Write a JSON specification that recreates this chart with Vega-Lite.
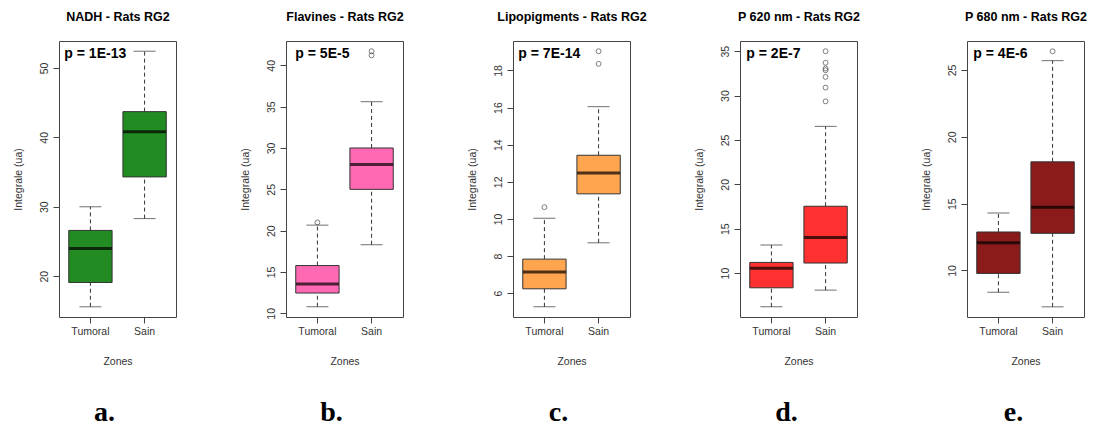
{
  "$schema": "https://vega.github.io/schema/vega-lite/v6.json",
  "background": "white",
  "padding": {"left": 12, "top": 9, "right": 0, "bottom": 0},
  "datasets": {
    "boxes": [
      {"panel": "NADH", "zone": "Tumoral", "lo": 15.6, "q1": 19.1, "med": 24.0, "q3": 26.6, "hi": 30.0},
      {"panel": "NADH", "zone": "Sain", "lo": 28.3, "q1": 34.3, "med": 40.8, "q3": 43.7, "hi": 52.4},
      {"panel": "Flavines", "zone": "Tumoral", "lo": 10.8, "q1": 12.46, "med": 13.55, "q3": 15.78, "hi": 20.67},
      {"panel": "Flavines", "zone": "Sain", "lo": 18.3, "q1": 25.0, "med": 28.0, "q3": 30.0, "hi": 35.6},
      {"panel": "Lipopigments", "zone": "Tumoral", "lo": 5.26, "q1": 6.23, "med": 7.13, "q3": 7.83, "hi": 10.04},
      {"panel": "Lipopigments", "zone": "Sain", "lo": 8.71, "q1": 11.35, "med": 12.48, "q3": 13.43, "hi": 16.05},
      {"panel": "P620", "zone": "Tumoral", "lo": 6.2, "q1": 8.34, "med": 10.53, "q3": 11.2, "hi": 13.16},
      {"panel": "P620", "zone": "Sain", "lo": 8.08, "q1": 11.13, "med": 14.02, "q3": 17.53, "hi": 26.53},
      {"panel": "P680", "zone": "Tumoral", "lo": 8.37, "q1": 9.78, "med": 12.08, "q3": 12.88, "hi": 14.3},
      {"panel": "P680", "zone": "Sain", "lo": 7.28, "q1": 12.78, "med": 14.73, "q3": 18.13, "hi": 25.7}
    ],
    "outliers": [
      {"panel": "Flavines", "zone": "Tumoral", "value": 21.0},
      {"panel": "Flavines", "zone": "Sain", "value": 41.2},
      {"panel": "Flavines", "zone": "Sain", "value": 41.7},
      {"panel": "Lipopigments", "zone": "Tumoral", "value": 10.63},
      {"panel": "Lipopigments", "zone": "Sain", "value": 18.36},
      {"panel": "Lipopigments", "zone": "Sain", "value": 19.04},
      {"panel": "P620", "zone": "Sain", "value": 29.35},
      {"panel": "P620", "zone": "Sain", "value": 30.9},
      {"panel": "P620", "zone": "Sain", "value": 32.1},
      {"panel": "P620", "zone": "Sain", "value": 32.85},
      {"panel": "P620", "zone": "Sain", "value": 33.05},
      {"panel": "P620", "zone": "Sain", "value": 33.7},
      {"panel": "P620", "zone": "Sain", "value": 35.0},
      {"panel": "P680", "zone": "Sain", "value": 26.4}
    ],
    "pvals": [
      {"panel": "NADH", "zone": "Tumoral", "ptext": "p = 1E-13"},
      {"panel": "Flavines", "zone": "Tumoral", "ptext": "p = 5E-5"},
      {"panel": "Lipopigments", "zone": "Tumoral", "ptext": "p = 7E-14"},
      {"panel": "P620", "zone": "Tumoral", "ptext": "p = 2E-7"},
      {"panel": "P680", "zone": "Tumoral", "ptext": "p = 4E-6"}
    ]
  },
  "spacing": 110,
  "bounds": "flush",
  "hconcat": [
    {
      "width": 117, "height": 276,
      "title": {"text": "a.", "orient": "bottom", "anchor": "middle", "frame": "group", "dx": -13, "offset": 32, "font": "Liberation Serif", "fontSize": 28, "fontWeight": "bold", "color": "#000"},
      "resolve": {"axis": {"x": "independent"}},
      "layer": [
        {
          "data": {"name": "boxes"},
          "transform": [{"filter": "datum.panel === 'NADH'"}],
          "encoding": {"x": {"field": "zone", "type": "nominal", "sort": ["Tumoral", "Sain"], "scale": {"type": "band", "paddingInner": 0, "paddingOuter": 0.08}, "axis": {"title": "Zones"}}},
          "layer": [
            {"mark": {"type": "rule", "strokeDash": [4, 3], "color": "#333", "strokeWidth": 1}, "encoding": {"y": {"field": "lo", "type": "quantitative", "scale": {"domain": [14.13, 53.87], "nice": false, "zero": false}, "axis": {"values": [20, 30, 40, 50], "title": "Integrale (ua)"}}, "y2": {"field": "q1"}}},
            {"mark": {"type": "rule", "strokeDash": [4, 3], "color": "#333", "strokeWidth": 1}, "encoding": {"y": {"field": "q3", "type": "quantitative", "scale": {"domain": [14.13, 53.87], "nice": false, "zero": false}, "axis": {"values": [20, 30, 40, 50], "title": "Integrale (ua)"}}, "y2": {"field": "hi"}}},
            {"mark": {"type": "tick", "size": 22, "thickness": 1, "color": "#333"}, "encoding": {"y": {"field": "lo", "type": "quantitative", "scale": {"domain": [14.13, 53.87], "nice": false, "zero": false}, "axis": {"values": [20, 30, 40, 50], "title": "Integrale (ua)"}}}},
            {"mark": {"type": "tick", "size": 22, "thickness": 1, "color": "#333"}, "encoding": {"y": {"field": "hi", "type": "quantitative", "scale": {"domain": [14.13, 53.87], "nice": false, "zero": false}, "axis": {"values": [20, 30, 40, 50], "title": "Integrale (ua)"}}}},
            {"mark": {"type": "bar", "width": {"band": 0.8}, "color": "#228B22", "stroke": "#333", "strokeWidth": 1}, "encoding": {"y": {"field": "q1", "type": "quantitative", "scale": {"domain": [14.13, 53.87], "nice": false, "zero": false}, "axis": {"values": [20, 30, 40, 50], "title": "Integrale (ua)"}}, "y2": {"field": "q3"}}},
            {"mark": {"type": "tick", "size": 43, "thickness": 3, "color": "#000"}, "encoding": {"y": {"field": "med", "type": "quantitative", "scale": {"domain": [14.13, 53.87], "nice": false, "zero": false}, "axis": {"values": [20, 30, 40, 50], "title": "Integrale (ua)"}}}}
          ]
        },
        {
          "layer": [
            {"data": {"name": "outliers"}, "transform": [{"filter": "datum.panel === 'NADH'"}],
             "mark": {"type": "point", "shape": "circle", "filled": false, "size": 24, "color": "#333", "strokeWidth": 0.9},
             "encoding": {"x": {"field": "zone", "type": "nominal", "sort": ["Tumoral", "Sain"], "axis": {"orient": "top", "title": "NADH - Rats RG2", "labels": false, "ticks": false, "domain": false, "titlePadding": 18, "titleFontWeight": "bold", "titleFontSize": 12.5, "titleColor": "#000"}}, "y": {"field": "value", "type": "quantitative", "scale": {"domain": [14.13, 53.87], "nice": false, "zero": false}, "axis": {"values": [20, 30, 40, 50], "title": "Integrale (ua)"}}}},
            {"data": {"name": "pvals"}, "transform": [{"filter": "datum.panel === 'NADH'"}],
             "mark": {"type": "text", "align": "left", "baseline": "top", "dx": 1, "dy": 6, "font": "Liberation Sans", "fontSize": 14, "fontWeight": "bold", "color": "#000"},
             "encoding": {"text": {"field": "ptext"}, "x": {"field": "zone", "type": "nominal", "sort": ["Tumoral", "Sain"], "bandPosition": 0, "axis": {"orient": "top", "title": "NADH - Rats RG2", "labels": false, "ticks": false, "domain": false, "titlePadding": 18, "titleFontWeight": "bold", "titleFontSize": 12.5, "titleColor": "#000"}}, "y": {"datum": 53.87, "type": "quantitative", "scale": {"domain": [14.13, 53.87], "nice": false, "zero": false}, "axis": {"values": [20, 30, 40, 50], "title": "Integrale (ua)"}}}}
          ]
        }
      ]
    },
    {
      "width": 117, "height": 276,
      "title": {"text": "b.", "orient": "bottom", "anchor": "middle", "frame": "group", "dx": -13, "offset": 32, "font": "Liberation Serif", "fontSize": 28, "fontWeight": "bold", "color": "#000"},
      "resolve": {"axis": {"x": "independent"}},
      "layer": [
        {
          "data": {"name": "boxes"},
          "transform": [{"filter": "datum.panel === 'Flavines'"}],
          "encoding": {"x": {"field": "zone", "type": "nominal", "sort": ["Tumoral", "Sain"], "scale": {"type": "band", "paddingInner": 0, "paddingOuter": 0.08}, "axis": {"title": "Zones"}}},
          "layer": [
            {"mark": {"type": "rule", "strokeDash": [4, 3], "color": "#333", "strokeWidth": 1}, "encoding": {"y": {"field": "lo", "type": "quantitative", "scale": {"domain": [9.56, 42.94], "nice": false, "zero": false}, "axis": {"values": [10, 15, 20, 25, 30, 35, 40], "title": "Integrale (ua)"}}, "y2": {"field": "q1"}}},
            {"mark": {"type": "rule", "strokeDash": [4, 3], "color": "#333", "strokeWidth": 1}, "encoding": {"y": {"field": "q3", "type": "quantitative", "scale": {"domain": [9.56, 42.94], "nice": false, "zero": false}, "axis": {"values": [10, 15, 20, 25, 30, 35, 40], "title": "Integrale (ua)"}}, "y2": {"field": "hi"}}},
            {"mark": {"type": "tick", "size": 22, "thickness": 1, "color": "#333"}, "encoding": {"y": {"field": "lo", "type": "quantitative", "scale": {"domain": [9.56, 42.94], "nice": false, "zero": false}, "axis": {"values": [10, 15, 20, 25, 30, 35, 40], "title": "Integrale (ua)"}}}},
            {"mark": {"type": "tick", "size": 22, "thickness": 1, "color": "#333"}, "encoding": {"y": {"field": "hi", "type": "quantitative", "scale": {"domain": [9.56, 42.94], "nice": false, "zero": false}, "axis": {"values": [10, 15, 20, 25, 30, 35, 40], "title": "Integrale (ua)"}}}},
            {"mark": {"type": "bar", "width": {"band": 0.8}, "color": "#FF69B4", "stroke": "#333", "strokeWidth": 1}, "encoding": {"y": {"field": "q1", "type": "quantitative", "scale": {"domain": [9.56, 42.94], "nice": false, "zero": false}, "axis": {"values": [10, 15, 20, 25, 30, 35, 40], "title": "Integrale (ua)"}}, "y2": {"field": "q3"}}},
            {"mark": {"type": "tick", "size": 43, "thickness": 3, "color": "#000"}, "encoding": {"y": {"field": "med", "type": "quantitative", "scale": {"domain": [9.56, 42.94], "nice": false, "zero": false}, "axis": {"values": [10, 15, 20, 25, 30, 35, 40], "title": "Integrale (ua)"}}}}
          ]
        },
        {
          "layer": [
            {"data": {"name": "outliers"}, "transform": [{"filter": "datum.panel === 'Flavines'"}],
             "mark": {"type": "point", "shape": "circle", "filled": false, "size": 24, "color": "#333", "strokeWidth": 0.9},
             "encoding": {"x": {"field": "zone", "type": "nominal", "sort": ["Tumoral", "Sain"], "axis": {"orient": "top", "title": "Flavines - Rats RG2", "labels": false, "ticks": false, "domain": false, "titlePadding": 18, "titleFontWeight": "bold", "titleFontSize": 12.5, "titleColor": "#000"}}, "y": {"field": "value", "type": "quantitative", "scale": {"domain": [9.56, 42.94], "nice": false, "zero": false}, "axis": {"values": [10, 15, 20, 25, 30, 35, 40], "title": "Integrale (ua)"}}}},
            {"data": {"name": "pvals"}, "transform": [{"filter": "datum.panel === 'Flavines'"}],
             "mark": {"type": "text", "align": "left", "baseline": "top", "dx": 5, "dy": 6, "font": "Liberation Sans", "fontSize": 14, "fontWeight": "bold", "color": "#000"},
             "encoding": {"text": {"field": "ptext"}, "x": {"field": "zone", "type": "nominal", "sort": ["Tumoral", "Sain"], "bandPosition": 0, "axis": {"orient": "top", "title": "Flavines - Rats RG2", "labels": false, "ticks": false, "domain": false, "titlePadding": 18, "titleFontWeight": "bold", "titleFontSize": 12.5, "titleColor": "#000"}}, "y": {"datum": 42.94, "type": "quantitative", "scale": {"domain": [9.56, 42.94], "nice": false, "zero": false}, "axis": {"values": [10, 15, 20, 25, 30, 35, 40], "title": "Integrale (ua)"}}}}
          ]
        }
      ]
    },
    {
      "width": 117, "height": 276,
      "title": {"text": "c.", "orient": "bottom", "anchor": "middle", "frame": "group", "dx": -13, "offset": 32, "font": "Liberation Serif", "fontSize": 28, "fontWeight": "bold", "color": "#000"},
      "resolve": {"axis": {"x": "independent"}},
      "layer": [
        {
          "data": {"name": "boxes"},
          "transform": [{"filter": "datum.panel === 'Lipopigments'"}],
          "encoding": {"x": {"field": "zone", "type": "nominal", "sort": ["Tumoral", "Sain"], "scale": {"type": "band", "paddingInner": 0, "paddingOuter": 0.08}, "axis": {"title": "Zones"}}},
          "layer": [
            {"mark": {"type": "rule", "strokeDash": [4, 3], "color": "#333", "strokeWidth": 1}, "encoding": {"y": {"field": "lo", "type": "quantitative", "scale": {"domain": [4.71, 19.59], "nice": false, "zero": false}, "axis": {"values": [6, 8, 10, 12, 14, 16, 18], "title": "Integrale (ua)"}}, "y2": {"field": "q1"}}},
            {"mark": {"type": "rule", "strokeDash": [4, 3], "color": "#333", "strokeWidth": 1}, "encoding": {"y": {"field": "q3", "type": "quantitative", "scale": {"domain": [4.71, 19.59], "nice": false, "zero": false}, "axis": {"values": [6, 8, 10, 12, 14, 16, 18], "title": "Integrale (ua)"}}, "y2": {"field": "hi"}}},
            {"mark": {"type": "tick", "size": 22, "thickness": 1, "color": "#333"}, "encoding": {"y": {"field": "lo", "type": "quantitative", "scale": {"domain": [4.71, 19.59], "nice": false, "zero": false}, "axis": {"values": [6, 8, 10, 12, 14, 16, 18], "title": "Integrale (ua)"}}}},
            {"mark": {"type": "tick", "size": 22, "thickness": 1, "color": "#333"}, "encoding": {"y": {"field": "hi", "type": "quantitative", "scale": {"domain": [4.71, 19.59], "nice": false, "zero": false}, "axis": {"values": [6, 8, 10, 12, 14, 16, 18], "title": "Integrale (ua)"}}}},
            {"mark": {"type": "bar", "width": {"band": 0.8}, "color": "#FFA54F", "stroke": "#333", "strokeWidth": 1}, "encoding": {"y": {"field": "q1", "type": "quantitative", "scale": {"domain": [4.71, 19.59], "nice": false, "zero": false}, "axis": {"values": [6, 8, 10, 12, 14, 16, 18], "title": "Integrale (ua)"}}, "y2": {"field": "q3"}}},
            {"mark": {"type": "tick", "size": 43, "thickness": 3, "color": "#000"}, "encoding": {"y": {"field": "med", "type": "quantitative", "scale": {"domain": [4.71, 19.59], "nice": false, "zero": false}, "axis": {"values": [6, 8, 10, 12, 14, 16, 18], "title": "Integrale (ua)"}}}}
          ]
        },
        {
          "layer": [
            {"data": {"name": "outliers"}, "transform": [{"filter": "datum.panel === 'Lipopigments'"}],
             "mark": {"type": "point", "shape": "circle", "filled": false, "size": 24, "color": "#333", "strokeWidth": 0.9},
             "encoding": {"x": {"field": "zone", "type": "nominal", "sort": ["Tumoral", "Sain"], "axis": {"orient": "top", "title": "Lipopigments - Rats RG2", "labels": false, "ticks": false, "domain": false, "titlePadding": 18, "titleFontWeight": "bold", "titleFontSize": 12.5, "titleColor": "#000"}}, "y": {"field": "value", "type": "quantitative", "scale": {"domain": [4.71, 19.59], "nice": false, "zero": false}, "axis": {"values": [6, 8, 10, 12, 14, 16, 18], "title": "Integrale (ua)"}}}},
            {"data": {"name": "pvals"}, "transform": [{"filter": "datum.panel === 'Lipopigments'"}],
             "mark": {"type": "text", "align": "left", "baseline": "top", "dx": 1, "dy": 6, "font": "Liberation Sans", "fontSize": 14, "fontWeight": "bold", "color": "#000"},
             "encoding": {"text": {"field": "ptext"}, "x": {"field": "zone", "type": "nominal", "sort": ["Tumoral", "Sain"], "bandPosition": 0, "axis": {"orient": "top", "title": "Lipopigments - Rats RG2", "labels": false, "ticks": false, "domain": false, "titlePadding": 18, "titleFontWeight": "bold", "titleFontSize": 12.5, "titleColor": "#000"}}, "y": {"datum": 19.59, "type": "quantitative", "scale": {"domain": [4.71, 19.59], "nice": false, "zero": false}, "axis": {"values": [6, 8, 10, 12, 14, 16, 18], "title": "Integrale (ua)"}}}}
          ]
        }
      ]
    },
    {
      "width": 117, "height": 276,
      "title": {"text": "d.", "orient": "bottom", "anchor": "middle", "frame": "group", "dx": -12, "offset": 32, "font": "Liberation Serif", "fontSize": 28, "fontWeight": "bold", "color": "#000"},
      "resolve": {"axis": {"x": "independent"}},
      "layer": [
        {
          "data": {"name": "boxes"},
          "transform": [{"filter": "datum.panel === 'P620'"}],
          "encoding": {"x": {"field": "zone", "type": "nominal", "sort": ["Tumoral", "Sain"], "scale": {"type": "band", "paddingInner": 0, "paddingOuter": 0.08}, "axis": {"title": "Zones"}}},
          "layer": [
            {"mark": {"type": "rule", "strokeDash": [4, 3], "color": "#333", "strokeWidth": 1}, "encoding": {"y": {"field": "lo", "type": "quantitative", "scale": {"domain": [5.05, 36.15], "nice": false, "zero": false}, "axis": {"values": [10, 15, 20, 25, 30, 35], "title": "Integrale (ua)"}}, "y2": {"field": "q1"}}},
            {"mark": {"type": "rule", "strokeDash": [4, 3], "color": "#333", "strokeWidth": 1}, "encoding": {"y": {"field": "q3", "type": "quantitative", "scale": {"domain": [5.05, 36.15], "nice": false, "zero": false}, "axis": {"values": [10, 15, 20, 25, 30, 35], "title": "Integrale (ua)"}}, "y2": {"field": "hi"}}},
            {"mark": {"type": "tick", "size": 22, "thickness": 1, "color": "#333"}, "encoding": {"y": {"field": "lo", "type": "quantitative", "scale": {"domain": [5.05, 36.15], "nice": false, "zero": false}, "axis": {"values": [10, 15, 20, 25, 30, 35], "title": "Integrale (ua)"}}}},
            {"mark": {"type": "tick", "size": 22, "thickness": 1, "color": "#333"}, "encoding": {"y": {"field": "hi", "type": "quantitative", "scale": {"domain": [5.05, 36.15], "nice": false, "zero": false}, "axis": {"values": [10, 15, 20, 25, 30, 35], "title": "Integrale (ua)"}}}},
            {"mark": {"type": "bar", "width": {"band": 0.8}, "color": "#FF3030", "stroke": "#333", "strokeWidth": 1}, "encoding": {"y": {"field": "q1", "type": "quantitative", "scale": {"domain": [5.05, 36.15], "nice": false, "zero": false}, "axis": {"values": [10, 15, 20, 25, 30, 35], "title": "Integrale (ua)"}}, "y2": {"field": "q3"}}},
            {"mark": {"type": "tick", "size": 43, "thickness": 3, "color": "#000"}, "encoding": {"y": {"field": "med", "type": "quantitative", "scale": {"domain": [5.05, 36.15], "nice": false, "zero": false}, "axis": {"values": [10, 15, 20, 25, 30, 35], "title": "Integrale (ua)"}}}}
          ]
        },
        {
          "layer": [
            {"data": {"name": "outliers"}, "transform": [{"filter": "datum.panel === 'P620'"}],
             "mark": {"type": "point", "shape": "circle", "filled": false, "size": 24, "color": "#333", "strokeWidth": 0.9},
             "encoding": {"x": {"field": "zone", "type": "nominal", "sort": ["Tumoral", "Sain"], "axis": {"orient": "top", "title": "P 620 nm - Rats RG2", "labels": false, "ticks": false, "domain": false, "titlePadding": 18, "titleFontWeight": "bold", "titleFontSize": 12.5, "titleColor": "#000"}}, "y": {"field": "value", "type": "quantitative", "scale": {"domain": [5.05, 36.15], "nice": false, "zero": false}, "axis": {"values": [10, 15, 20, 25, 30, 35], "title": "Integrale (ua)"}}}},
            {"data": {"name": "pvals"}, "transform": [{"filter": "datum.panel === 'P620'"}],
             "mark": {"type": "text", "align": "left", "baseline": "top", "dx": 2, "dy": 6, "font": "Liberation Sans", "fontSize": 14, "fontWeight": "bold", "color": "#000"},
             "encoding": {"text": {"field": "ptext"}, "x": {"field": "zone", "type": "nominal", "sort": ["Tumoral", "Sain"], "bandPosition": 0, "axis": {"orient": "top", "title": "P 620 nm - Rats RG2", "labels": false, "ticks": false, "domain": false, "titlePadding": 18, "titleFontWeight": "bold", "titleFontSize": 12.5, "titleColor": "#000"}}, "y": {"datum": 36.15, "type": "quantitative", "scale": {"domain": [5.05, 36.15], "nice": false, "zero": false}, "axis": {"values": [10, 15, 20, 25, 30, 35], "title": "Integrale (ua)"}}}}
          ]
        }
      ]
    },
    {
      "width": 117, "height": 276,
      "title": {"text": "e.", "orient": "bottom", "anchor": "middle", "frame": "group", "dx": -12, "offset": 32, "font": "Liberation Serif", "fontSize": 28, "fontWeight": "bold", "color": "#000"},
      "resolve": {"axis": {"x": "independent"}},
      "layer": [
        {
          "data": {"name": "boxes"},
          "transform": [{"filter": "datum.panel === 'P680'"}],
          "encoding": {"x": {"field": "zone", "type": "nominal", "sort": ["Tumoral", "Sain"], "scale": {"type": "band", "paddingInner": 0, "paddingOuter": 0.08}, "axis": {"title": "Zones"}}},
          "layer": [
            {"mark": {"type": "rule", "strokeDash": [4, 3], "color": "#333", "strokeWidth": 1}, "encoding": {"y": {"field": "lo", "type": "quantitative", "scale": {"domain": [6.52, 27.17], "nice": false, "zero": false}, "axis": {"values": [10, 15, 20, 25], "title": "Integrale (ua)"}}, "y2": {"field": "q1"}}},
            {"mark": {"type": "rule", "strokeDash": [4, 3], "color": "#333", "strokeWidth": 1}, "encoding": {"y": {"field": "q3", "type": "quantitative", "scale": {"domain": [6.52, 27.17], "nice": false, "zero": false}, "axis": {"values": [10, 15, 20, 25], "title": "Integrale (ua)"}}, "y2": {"field": "hi"}}},
            {"mark": {"type": "tick", "size": 22, "thickness": 1, "color": "#333"}, "encoding": {"y": {"field": "lo", "type": "quantitative", "scale": {"domain": [6.52, 27.17], "nice": false, "zero": false}, "axis": {"values": [10, 15, 20, 25], "title": "Integrale (ua)"}}}},
            {"mark": {"type": "tick", "size": 22, "thickness": 1, "color": "#333"}, "encoding": {"y": {"field": "hi", "type": "quantitative", "scale": {"domain": [6.52, 27.17], "nice": false, "zero": false}, "axis": {"values": [10, 15, 20, 25], "title": "Integrale (ua)"}}}},
            {"mark": {"type": "bar", "width": {"band": 0.8}, "color": "#8B1A1A", "stroke": "#333", "strokeWidth": 1}, "encoding": {"y": {"field": "q1", "type": "quantitative", "scale": {"domain": [6.52, 27.17], "nice": false, "zero": false}, "axis": {"values": [10, 15, 20, 25], "title": "Integrale (ua)"}}, "y2": {"field": "q3"}}},
            {"mark": {"type": "tick", "size": 43, "thickness": 3, "color": "#000"}, "encoding": {"y": {"field": "med", "type": "quantitative", "scale": {"domain": [6.52, 27.17], "nice": false, "zero": false}, "axis": {"values": [10, 15, 20, 25], "title": "Integrale (ua)"}}}}
          ]
        },
        {
          "layer": [
            {"data": {"name": "outliers"}, "transform": [{"filter": "datum.panel === 'P680'"}],
             "mark": {"type": "point", "shape": "circle", "filled": false, "size": 24, "color": "#333", "strokeWidth": 0.9},
             "encoding": {"x": {"field": "zone", "type": "nominal", "sort": ["Tumoral", "Sain"], "axis": {"orient": "top", "title": "P 680 nm - Rats RG2", "labels": false, "ticks": false, "domain": false, "titlePadding": 18, "titleFontWeight": "bold", "titleFontSize": 12.5, "titleColor": "#000"}}, "y": {"field": "value", "type": "quantitative", "scale": {"domain": [6.52, 27.17], "nice": false, "zero": false}, "axis": {"values": [10, 15, 20, 25], "title": "Integrale (ua)"}}}},
            {"data": {"name": "pvals"}, "transform": [{"filter": "datum.panel === 'P680'"}],
             "mark": {"type": "text", "align": "left", "baseline": "top", "dx": 2, "dy": 6, "font": "Liberation Sans", "fontSize": 14, "fontWeight": "bold", "color": "#000"},
             "encoding": {"text": {"field": "ptext"}, "x": {"field": "zone", "type": "nominal", "sort": ["Tumoral", "Sain"], "bandPosition": 0, "axis": {"orient": "top", "title": "P 680 nm - Rats RG2", "labels": false, "ticks": false, "domain": false, "titlePadding": 18, "titleFontWeight": "bold", "titleFontSize": 12.5, "titleColor": "#000"}}, "y": {"datum": 27.17, "type": "quantitative", "scale": {"domain": [6.52, 27.17], "nice": false, "zero": false}, "axis": {"values": [10, 15, 20, 25], "title": "Integrale (ua)"}}}}
          ]
        }
      ]
    }
  ],
  "config": {
    "font": "Liberation Sans",
    "view": {"stroke": "#444", "strokeWidth": 1},
    "axis": {"grid": false, "domain": false, "tickColor": "#444", "tickSize": 6, "labelFont": "Liberation Sans", "labelFontSize": 10.5, "labelColor": "#333", "titleFont": "Liberation Sans", "titleFontSize": 10.5, "titleFontWeight": "normal", "titleColor": "#333"},
    "axisY": {"labelAngle": -90, "labelAlign": "center", "labelBaseline": "bottom", "labelPadding": 4, "titlePadding": 16},
    "axisX": {"labelAngle": 0, "labelPadding": 3, "titlePadding": 20}
  }
}
